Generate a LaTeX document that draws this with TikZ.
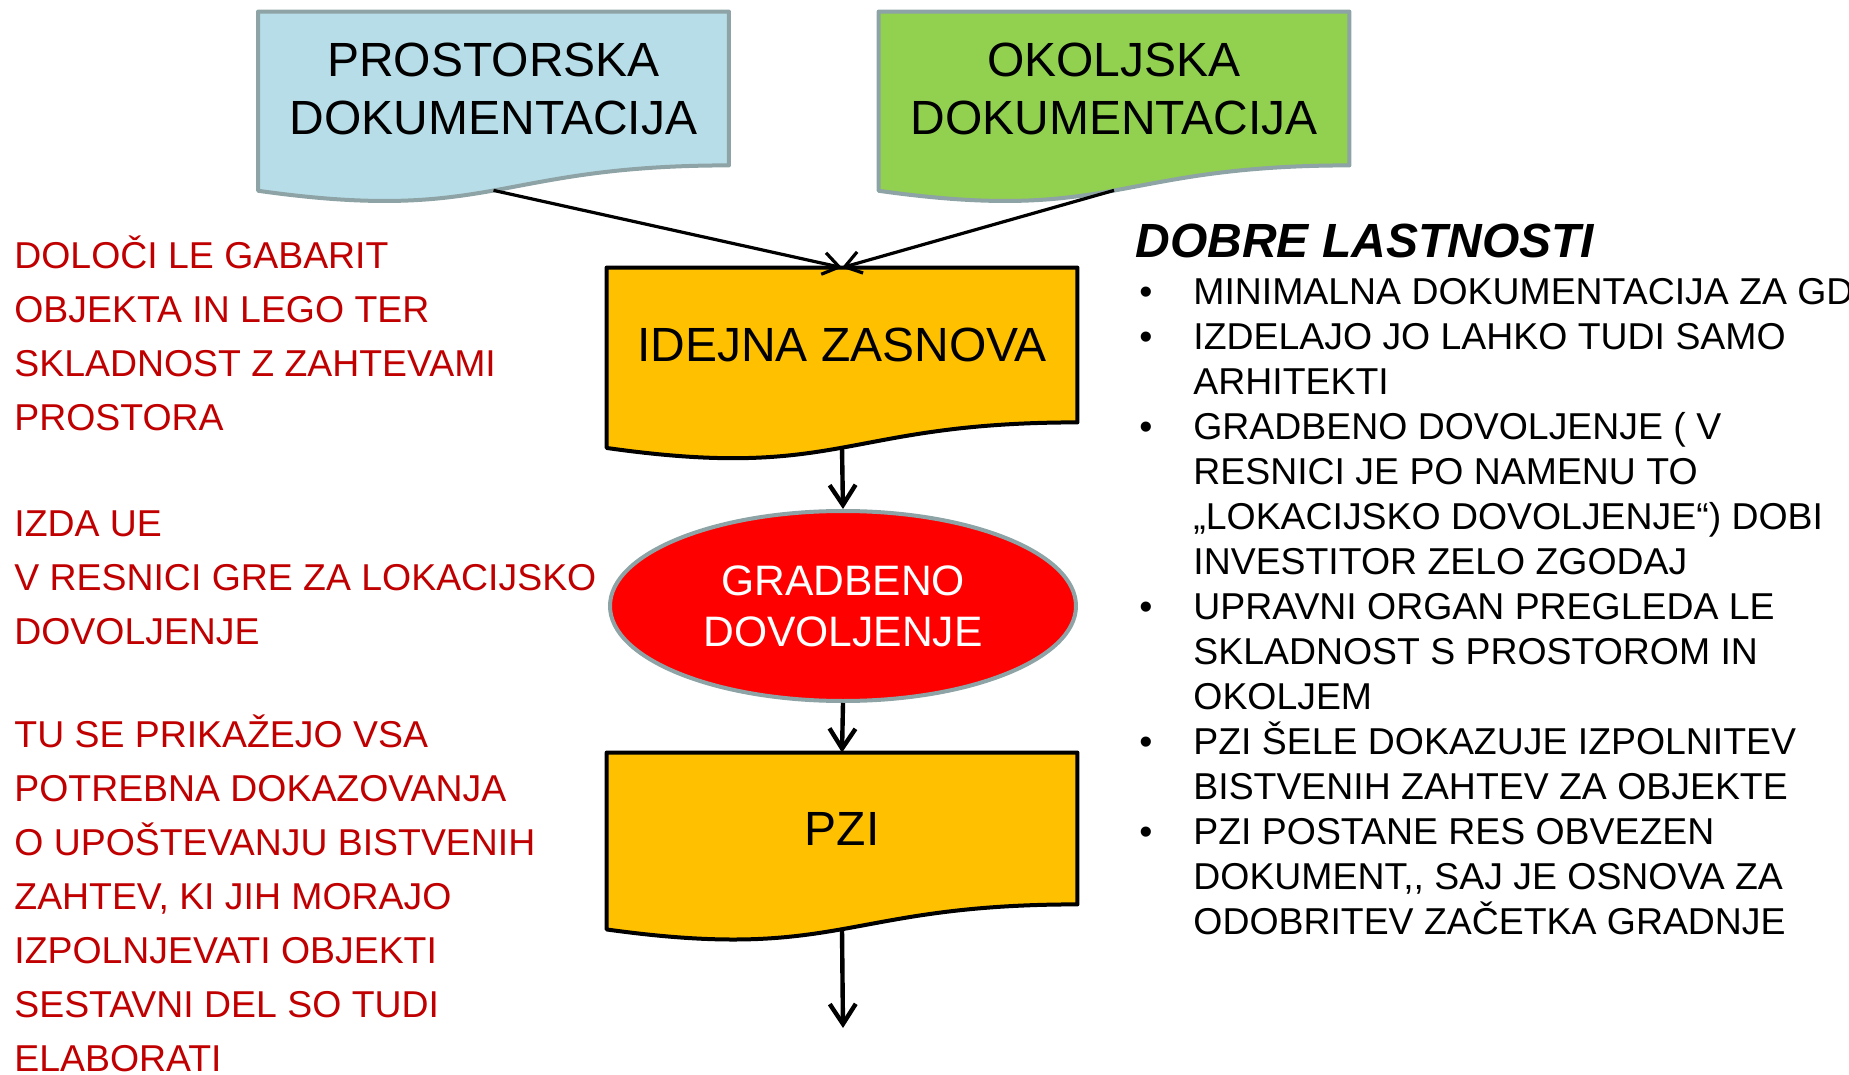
\documentclass[tikz,border=0pt]{standalone}
\usepackage{fontspec}
\setmainfont{Liberation Sans}
\usetikzlibrary{shapes.geometric,arrows.meta,calc,backgrounds}
\definecolor{prostfill}{HTML}{B7DEE8}
\definecolor{okoljfill}{HTML}{92D050}
\definecolor{docline}{HTML}{8DA3A5}
\definecolor{zasnovafill}{HTML}{FFC000}
\definecolor{opombared}{HTML}{C00000}
\newcommand\tocka{\makebox[27pt][l]{\textbullet}}
\newcommand\zamik{\hspace*{27pt}}
\begin{document}
\begin{tikzpicture}[x=0.5pt,y=-0.5pt,
    doc/.style={rectangle,minimum width=235pt,inner sep=0pt,align=center,font=\fontsize{24}{29}\selectfont},
    puscica/.style={line width=2.2pt,-{Straight Barb[length=10pt,width=13pt]}},
    tanka/.style={line width=1.6pt,-{Straight Barb[length=8pt,width=11pt]}},
    opomba/.style={anchor=base west,inner sep=0pt,align=left,text=opombared,font=\fontsize{18.7}{27}\selectfont}]
\useasboundingbox (0,0) rectangle (1849,1075);
% dokumenti
\node[doc,minimum height=76.5pt] at (493.5,88.5) (prost) {PROSTORSKA\\DOKUMENTACIJA};
\node[doc,minimum height=76.5pt] at (1114,88.5) (okolj) {OKOLJSKA\\DOKUMENTACIJA};
\node[doc,minimum height=77pt] at (842,345) (idejna) {IDEJNA ZASNOVA};
\node[ellipse,fill=red,draw=docline,line width=2pt,minimum width=233pt,minimum height=95pt,
      align=center,text=white,font=\fontsize{21.3}{25.5}\selectfont] at (843,606) (gd) {GRADBENO\\DOVOLJENJE};
\node[doc,minimum height=75.5pt] at (842,828.5) (pzi) {PZI};
\begin{scope}[on background layer]
  \foreach \n/\f/\d in {prost/prostfill/docline,okolj/okoljfill/docline,idejna/zasnovafill/black,pzi/zasnovafill/black}{
    \draw[line width=2pt,fill=\f,draw=\d,line join=round] (\n.north west) -- (\n.north east) -- (\n.south east)
      .. controls (\n.south) and ($(\n.north)!1.381!(\n.south)$) .. ($(\n.north west)!1.165!(\n.south west)$) -- cycle;
    \coordinate (\n-dno) at ([yshift=-12.5pt]\n.south);
  }
\end{scope}
\coordinate (konec) at (843,1028);
\draw[tanka] (prost-dno) -- (idejna.north);
\draw[tanka] (okolj-dno) -- (idejna.north);
\draw[puscica] (idejna-dno) -- (gd.north);
\draw[puscica] (gd.south) -- (pzi.north);
\draw[puscica] (pzi-dno) -- (konec);
% opombe levo (base = zadnja vrstica)
\node[opomba] at (14,430) (op1) {DOLOČI LE GABARIT\\OBJEKTA IN LEGO TER\\SKLADNOST Z ZAHTEVAMI\\PROSTORA};
\node[opomba] at (14,644) (op2) {IZDA UE\\V RESNICI GRE ZA LOKACIJSKO\\DOVOLJENJE};
\node[opomba] at (14,1071) (op3) {TU SE PRIKAŽEJO VSA\\POTREBNA DOKAZOVANJA\\O UPOŠTEVANJU BISTVENIH\\ZAHTEV, KI JIH MORAJO\\IZPOLNJEVATI OBJEKTI\\SESTAVNI DEL SO TUDI\\ELABORATI};
% lastnosti desno
\node[anchor=base west,inner sep=0pt,font=\fontsize{24}{28}\bfseries\itshape\selectfont] at (1135,258) (naslov) {DOBRE LASTNOSTI};
\node[anchor=base west,inner sep=0pt,align=left,font=\fontsize{18.7}{22.5}\selectfont] at (1139,934) (lastnosti) {%
\tocka MINIMALNA DOKUMENTACIJA ZA GD\\
\tocka IZDELAJO JO LAHKO TUDI SAMO\\
\zamik ARHITEKTI\\
\tocka GRADBENO DOVOLJENJE ( V\\
\zamik RESNICI JE PO NAMENU TO\\
\zamik „LOKACIJSKO DOVOLJENJE“) DOBI\\
\zamik INVESTITOR ZELO ZGODAJ\\
\tocka UPRAVNI ORGAN PREGLEDA LE\\
\zamik SKLADNOST S PROSTOROM IN\\
\zamik OKOLJEM\\
\tocka PZI ŠELE DOKAZUJE IZPOLNITEV\\
\zamik BISTVENIH ZAHTEV ZA OBJEKTE\\
\tocka PZI POSTANE RES OBVEZEN\\
\zamik DOKUMENT,{}, SAJ JE OSNOVA ZA\\
\zamik ODOBRITEV ZAČETKA GRADNJE};
\end{tikzpicture}
\end{document}
